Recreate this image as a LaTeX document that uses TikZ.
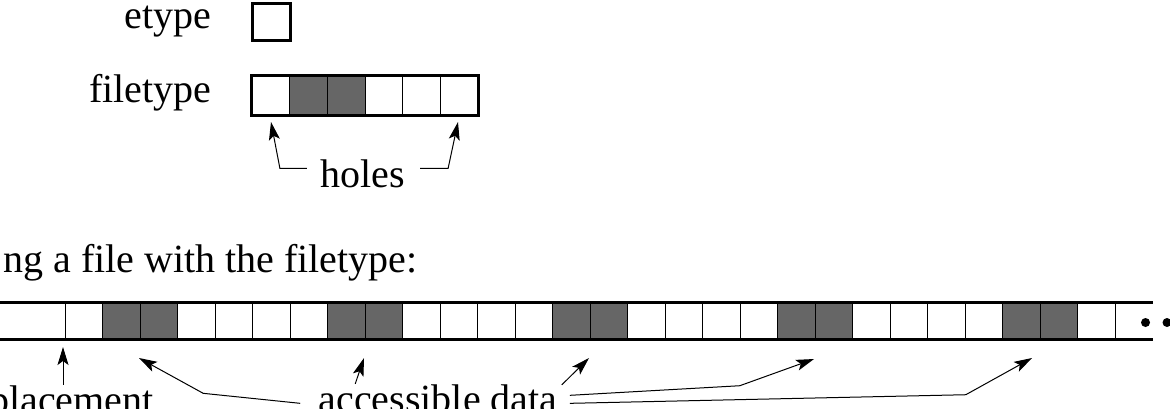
\documentclass[tikz,border=0pt]{standalone}
\usepackage{fontspec}
\setmainfont[Ligatures=NoCommon]{Liberation Serif}
\usetikzlibrary{arrows.meta,calc}

\begin{document}
\begin{tikzpicture}[x=0.5pt, y=-0.5pt,
    lbl/.style={font=\fontsize{20}{24}\selectfont, inner sep=0pt},
    cell/.style={draw, line width=0.5pt, inner sep=0pt, minimum width=18.83pt, minimum height=19.5pt},
    frame/.style={line width=1.5pt},
    sep/.style={line width=0.5pt},
    full/.style={fill=black!60},
    arr/.style={-{Stealth[length=9pt,width=5.5pt,inset=2pt]}, line width=0.5pt}]
    \clip (0,0) rectangle (1170,408);

    % etype and filetype
    \node[lbl, anchor=base east] (etlbl) at (212,28) {etype};
    \node[cell, frame, minimum width=19pt, minimum height=18.5pt] (et) at (271,21.5) {};

    \node[lbl, anchor=base east] (ftlbl) at (212,102) {filetype};
    \foreach \i/\c in {1/white,2/black!60,3/black!60,4/white,5/white,6/white}
        \node[cell, fill=\c] (ft\i) at ({252+37.67*(\i-0.5)},95.5) {};
    \draw[frame] (ft1.north west) rectangle (ft6.south east);

    \node[lbl, anchor=base] (holes) at (362.5,187) {holes};
    \coordinate (holeL) at (271,122);
    \coordinate (holeR) at (458,122);
    \draw[arr] ($(holes.west)+(-13,-5)$) -- ++(-27,0) -- (holeL);
    \draw[arr] ($(holes.east)+(15,-5)$) -- ++(28,0) -- (holeR);

    % the tiled file
    \node[lbl, anchor=base east] (tiling) at (418,272) {ng a file with the filetype:};

    \foreach \j in {0,...,4}
        \fill[full] ({102.5+225*\j},302) rectangle ++(75,37);
    \foreach \k in {0,...,28}
        \draw[sep] ({65+37.5*\k},302) -- ++(0,37);
    \draw[frame] (-10,302) -- (1152.5,302);
    \draw[frame] (-10,339) -- (1152.5,339);
    \fill (1145.5,322.5) circle (4.5) (1167,322.5) circle (4.5);

    \node[lbl, anchor=base east] (disp) at (154,413) {placement};
    \node[lbl, anchor=base] (acc) at (438,412) {accessible data};

    \coordinate (dtip) at (63,347);
    \coordinate (tipA) at (139,358);
    \coordinate (tipB) at (364,358);
    \coordinate (tipC) at (589,358);
    \coordinate (tipD) at (814,359);
    \coordinate (tipE) at (1032,358);

    \draw[arr] (disp.north -| dtip) -- (dtip);
    \draw[arr] ($(acc.west)+(-18,5)$) -- ++(-97,-10) -- (tipA);
    \draw[arr] ($(acc.north west)+(37,0)$) -- (tipB);
    \draw[arr] ($(acc.north east)+(4,1)$) -- (tipC);
    \draw[arr] ($(acc.east)+(12,-3)$) -- ++(170,-9.6) -- (tipD);
    \draw[arr] ($(acc.east)+(12,5)$) -- ++(396,-8.6) -- (tipE);
\end{tikzpicture}
\end{document}
